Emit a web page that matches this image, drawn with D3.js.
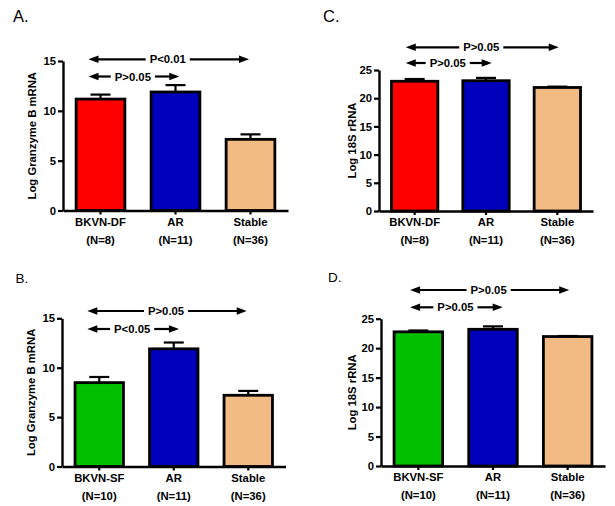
<!DOCTYPE html>
<html>
<head>
<meta charset="utf-8">
<script src="https://cdn.jsdelivr.net/npm/d3@7"></script>
<style>
  html, body { margin: 0; padding: 0; background: #fff; }
  svg { display: block; font-family: "Liberation Sans", Arial, sans-serif; }
</style>
</head>
<body>
<svg id="chart" width="615" height="506"></svg>
<script>
// ---------- DATA ----------
const categoriesDF = ["BKVN-DF", "AR", "Stable"];
const categoriesSF = ["BKVN-SF", "AR", "Stable"];
const countsDF = ["(N=8)", "(N=11)", "(N=36)"];
const countsSF = ["(N=10)", "(N=11)", "(N=36)"];

const granzymeDF = [11.18, 11.89, 7.14];
const granzymeDFErr = [11.63, 12.58, 7.64];
const rrnaDF = [23.0, 23.1, 21.9];
const rrnaDFErr = [23.4, 23.6, 22.05];
const granzymeSF = [8.49, 11.91, 7.21];
const granzymeSFErr = [9.06, 12.55, 7.65];
const rrnaSF = [22.77, 23.2, 21.97];
const rrnaSFErr = [23.0, 23.7, 22.06];

const colorsDF = ["#ff0000", "#0000bc", "#f1bb83"];
const colorsSF = ["#00c000", "#0000bc", "#f1bb83"];

const ticksGranzyme = [0, 5, 10, 15];
const ticksRrna = [0, 5, 10, 15, 20, 25];

// comparisons: from / to category index, with fractional offsets (in steps)
const compA = [
  { from: 0, fromOff: -0.16, to: 2, toOff: -0.02, label: "P<0.01", row: 0 },
  { from: 0, fromOff: -0.16, to: 1, toOff: 0.05, label: "P>0.05", row: 1 }
];
const compC = [
  { from: 0, fromOff: -0.125, to: 2, toOff: 0.02, label: "P>0.05", row: 0 },
  { from: 0, fromOff: -0.125, to: 1, toOff: 0.08, label: "P>0.05", row: 1 }
];
const compB = [
  { from: 0, fromOff: -0.16, to: 2, toOff: -0.02, label: "P>0.05", row: 0 },
  { from: 0, fromOff: -0.16, to: 1, toOff: 0.07, label: "P<0.05", row: 1 }
];
const compD = [
  { from: 0, fromOff: -0.11, to: 2, toOff: 0.02, label: "P>0.05", row: 0 },
  { from: 0, fromOff: -0.11, to: 1, toOff: 0.13, label: "P>0.05", row: 1 }
];

// ---------- LAYOUT ----------
const panels = [
  { letter: "A.", lx: 13, ly: 22, lsize: 16.5,
    x0: 63, x1: 288, yBottom: 210.5, yTop: 61, max: 15, ticks: ticksGranzyme,
    cats: categoriesDF, ns: countsDF, vals: granzymeDF, errs: granzymeDFErr, colors: colorsDF,
    ylabel: "Log Granzyme B mRNA", ylabelX: 32, comps: compA, arrowY: [59.3, 76.5] },
  { letter: "C.", lx: 323, ly: 22, lsize: 16.5,
    x0: 379, x1: 593, yBottom: 211, yTop: 70, max: 25, ticks: ticksRrna,
    cats: categoriesDF, ns: countsDF, vals: rrnaDF, errs: rrnaDFErr, colors: colorsDF,
    ylabel: "Log 18S rRNA", ylabelX: 352, comps: compC, arrowY: [47.3, 63] },
  { letter: "B.", lx: 15.5, ly: 282.7, lsize: 13.5,
    x0: 62, x1: 285.5, yBottom: 466.5, yTop: 318.3, max: 15, ticks: ticksGranzyme,
    cats: categoriesSF, ns: countsSF, vals: granzymeSF, errs: granzymeSFErr, colors: colorsSF,
    ylabel: "Log Granzyme B mRNA", ylabelX: 31.5, comps: compB, arrowY: [311, 329] },
  { letter: "D.", lx: 328, ly: 282, lsize: 13.5,
    x0: 381, x1: 605, yBottom: 466, yTop: 318.7, max: 25, ticks: ticksRrna,
    cats: categoriesSF, ns: countsSF, vals: rrnaSF, errs: rrnaSFErr, colors: colorsSF,
    ylabel: "Log 18S rRNA", ylabelX: 352, comps: compD, arrowY: [290, 307.3] }
];

const svg = d3.select("#chart");
const FS = 11.3;

panels.forEach(p => {
  const g = svg.append("g");
  const x = d3.scaleBand().domain(p.cats).range([p.x0, p.x1]).paddingInner(0.35).paddingOuter(0.175);
  const y = d3.scaleLinear().domain([0, p.max]).range([p.yBottom, p.yTop]);
  const step = x.step();
  const cx = i => x(p.cats[i]) + x.bandwidth() / 2;

  // panel letter
  g.append("text").attr("x", p.lx).attr("y", p.ly)
    .attr("font-size", p.lsize).attr("fill", "#000").text(p.letter);

  // bars
  p.cats.forEach((c, i) => {
    const ex = cx(i);
    g.append("line").attr("x1", ex).attr("x2", ex)
      .attr("y1", y(p.vals[i])).attr("y2", y(p.errs[i]))
      .attr("stroke", "#000").attr("stroke-width", 2.2);
    g.append("line").attr("x1", ex - 10).attr("x2", ex + 10)
      .attr("y1", y(p.errs[i])).attr("y2", y(p.errs[i]))
      .attr("stroke", "#000").attr("stroke-width", 2.2);
    g.append("rect")
      .attr("x", x(c)).attr("width", x.bandwidth())
      .attr("y", y(p.vals[i])).attr("height", y(0) - y(p.vals[i]))
      .attr("fill", p.colors[i]).attr("stroke", "#000").attr("stroke-width", 2.8);
  });

  // y axis
  const yAxis = d3.axisLeft(y).tickValues(p.ticks).tickSize(5).tickSizeOuter(0).tickPadding(2);
  const ya = g.append("g").attr("transform", `translate(${p.x0},0)`).call(yAxis);
  ya.select(".domain").attr("stroke", "#000").attr("stroke-width", 2.4);
  ya.selectAll(".tick line").attr("stroke", "#000").attr("stroke-width", 2.2);
  ya.selectAll(".tick text").attr("font-size", FS).attr("font-weight", "bold")
    .attr("font-family", "Liberation Sans, Arial, sans-serif").attr("fill", "#000");

  // x axis
  const xAxis = d3.axisBottom(x).tickSize(4).tickSizeOuter(0).tickFormat("");
  const xa = g.append("g").attr("transform", `translate(0,${p.yBottom})`).call(xAxis);
  xa.select(".domain").attr("stroke", "#000").attr("stroke-width", 2.4);
  xa.selectAll(".tick line").attr("stroke", "#000").attr("stroke-width", 2.2);

  // category labels
  p.cats.forEach((c, i) => {
    g.append("text").attr("x", cx(i)).attr("y", p.yBottom + 15)
      .attr("text-anchor", "middle").attr("font-size", FS).attr("font-weight", "bold").text(c);
    g.append("text").attr("x", cx(i)).attr("y", p.yBottom + 33)
      .attr("text-anchor", "middle").attr("font-size", FS).attr("font-weight", "bold").text(p.ns[i]);
  });

  // y label
  g.append("text")
    .attr("transform", `translate(${p.ylabelX},${(p.yBottom + p.yTop) / 2}) rotate(-90)`)
    .attr("text-anchor", "middle").attr("dy", "0.35em")
    .attr("font-size", FS).attr("font-weight", "bold").text(p.ylabel);

  // comparison arrows
  p.comps.forEach(cmp => {
    const ay = p.arrowY[cmp.row];
    const xl = cx(cmp.from) + cmp.fromOff * step;
    const xr = cx(cmp.to) + cmp.toOff * step;
    const mid = (xl + xr) / 2 - 1;
    const t = g.append("text").attr("x", mid).attr("y", ay + 4)
      .attr("text-anchor", "middle").attr("font-size", FS).attr("font-weight", "bold").text(cmp.label);
    const tw = t.node().getComputedTextLength();
    const gap = 4, ah = 10, hw = 3.8;
    g.append("line").attr("x1", xl + ah - 1).attr("x2", mid - tw / 2 - gap)
      .attr("y1", ay).attr("y2", ay).attr("stroke", "#000").attr("stroke-width", 2.2);
    g.append("line").attr("x1", mid + tw / 2 + gap).attr("x2", xr - ah + 1)
      .attr("y1", ay).attr("y2", ay).attr("stroke", "#000").attr("stroke-width", 2.2);
    g.append("path").attr("d", `M${xl},${ay} L${xl + ah},${ay - hw} L${xl + ah},${ay + hw} Z`).attr("fill", "#000");
    g.append("path").attr("d", `M${xr},${ay} L${xr - ah},${ay - hw} L${xr - ah},${ay + hw} Z`).attr("fill", "#000");
  });
});
</script>
</body>
</html>
